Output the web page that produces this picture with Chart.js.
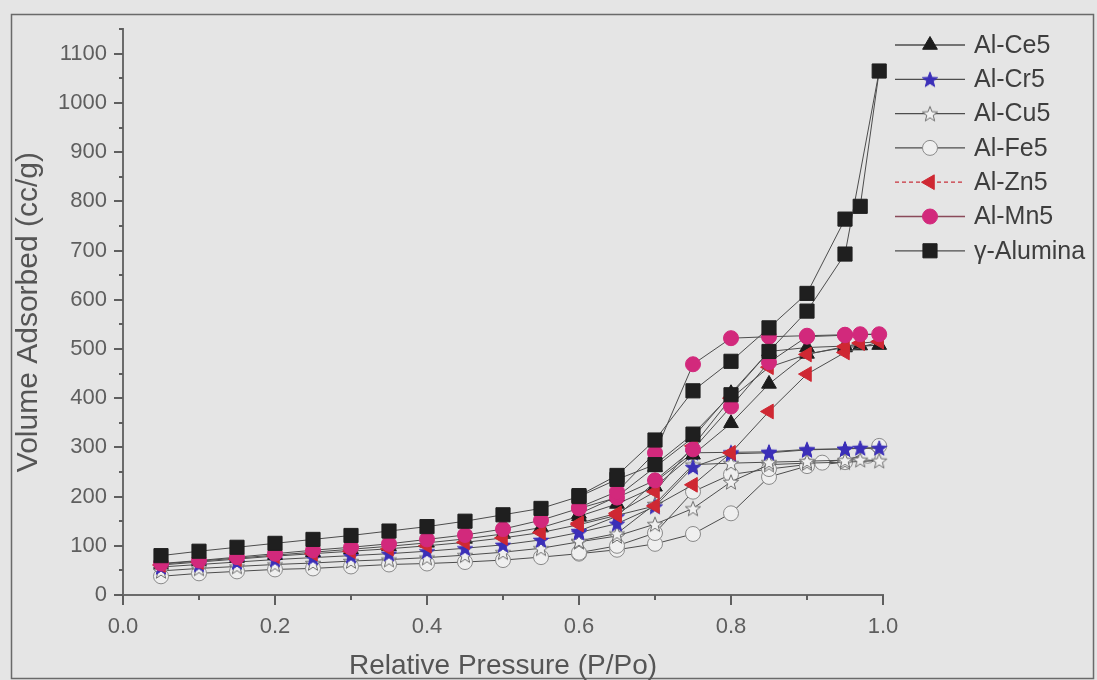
<!DOCTYPE html>
<html>
<head>
<meta charset="utf-8">
<script src="https://cdn.jsdelivr.net/npm/chart.js@4.4.1/dist/chart.umd.min.js"></script>
<style>
  html, body { margin: 0; padding: 0; background: #e5e5e5; }
  canvas { display: block; }
</style>
</head>
<body>
<canvas id="isoChart" width="1097" height="680"></canvas>
<script>
// relative pressures (adsorption branch, then desorption branch)
const pAds = [0.05, 0.10, 0.15, 0.20, 0.25, 0.30, 0.35, 0.40, 0.45, 0.50,
              0.55, 0.60, 0.65, 0.70, 0.75, 0.80, 0.85, 0.90, 0.95, 0.995];
const pDes = [0.97, 0.95, 0.90, 0.85, 0.80, 0.75, 0.70, 0.65, 0.60];
const pDesFe = [0.98, 0.92, 0.85, 0.80, 0.75, 0.70, 0.65, 0.60];

// volume adsorbed (cc/g)
const ce5Ads = [63, 69, 75, 81, 87, 93, 99, 106, 114, 124, 137, 160, 185, 220, 285, 349, 429, 490, 503, 508];
const ce5Des = [507, 506, 503, 495, 410, 320, 260, 200, 165];
const cr5Ads = [57, 62, 67, 72, 76, 80, 84, 89, 95, 102, 112, 127, 145, 180, 260, 287, 289, 295, 297, 299];
const cr5Des = [299, 297, 296, 291, 290, 289, 230, 160, 130];
const cu5Ads = [49, 54, 58, 62, 65, 69, 72, 76, 81, 87, 95, 108, 120, 144, 176, 230, 265, 268, 270, 273];
const cu5Des = [275, 274, 272, 270, 268, 265, 185, 125, 110];
const fe5Ads = [38, 44, 48, 52, 54, 58, 62, 64, 67, 71, 77, 84, 92, 104, 124, 166, 240, 262, 270, 303];
const fe5Des = [283, 269, 256, 245, 210, 126, 100, 86];
const zn5Ads = [61, 67, 73, 79, 84, 89, 94, 100, 107, 116, 127, 143, 162, 181, 224, 289, 373, 449, 493, 515];
const zn5Des = [512, 505, 489, 463, 400, 303, 210, 166, 146];
const mn5Ads = [64, 70, 77, 84, 91, 97, 104, 113, 122, 134, 152, 176, 198, 233, 296, 383, 473, 525, 528, 530];
const mn5Des = [530, 529, 527, 525, 522, 469, 289, 210, 178];
const aluAds = [80, 89, 97, 105, 113, 121, 130, 139, 150, 163, 176, 200, 235, 265, 327, 407, 495, 577, 693, 1065];
const aluDes = [790, 764, 613, 543, 475, 415, 315, 243, 202];

const seriesNames = ['Al-Ce5', 'Al-Cr5', 'Al-Cu5', 'Al-Fe5', 'Al-Zn5', 'Al-Mn5', '\u03b3-Alumina'];

// 5-point star drawn on a small canvas, used as a point style
function makeStar(size, fill, stroke) {
    const c = document.createElement('canvas');
    c.width = size; c.height = size;
    const g = c.getContext('2d');
    const cx = size / 2, cy = size / 2 + 0.8;
    const ro = size / 2 - 1, ri = ro * 0.42;
    g.beginPath();
    for (let i = 0; i < 10; i++) {
        const r = i % 2 === 0 ? ro : ri;
        const a = -Math.PI / 2 + i * Math.PI / 5;
        const px = cx + r * Math.cos(a), py = cy + r * Math.sin(a);
        if (i === 0) g.moveTo(px, py); else g.lineTo(px, py);
    }
    g.closePath();
    g.fillStyle = fill;
    g.fill();
    g.lineWidth = 1;
    g.strokeStyle = stroke;
    g.stroke();
    return c;
}

function toPoints(ads, desP, des) {
    const pts = pAds.map((p, i) => ({ x: p, y: ads[i] }));
    return pts.concat(desP.map((p, i) => ({ x: p, y: des[i] })));
}

const lineGray = '#4d4d4d';

const datasets = [
    { label: seriesNames[0], data: toPoints(ce5Ads, pDes, ce5Des), order: 3,
      pointStyle: 'triangle', pointRadius: 8.5, pointBackgroundColor: '#1c1c1c', pointBorderColor: '#1c1c1c',
      legendLine: lineGray, legendDash: [] },
    { label: seriesNames[1], data: toPoints(cr5Ads, pDes, cr5Des), order: 4,
      pointStyle: makeStar(18, '#3b2fb8', '#3b2fb8'), pointRadius: 8,
      pointBackgroundColor: '#3b2fb8', pointBorderColor: '#3b2fb8',
      legendLine: lineGray, legendDash: [] },
    { label: seriesNames[2], data: toPoints(cu5Ads, pDes, cu5Des), order: 5,
      pointStyle: makeStar(18, '#f0f0f0', '#6e6e6e'), pointRadius: 8,
      pointBackgroundColor: '#f0f0f0', pointBorderColor: '#6e6e6e',
      legendLine: lineGray, legendDash: [] },
    { label: seriesNames[3], data: toPoints(fe5Ads, pDesFe, fe5Des), order: 6,
      pointStyle: 'circle', pointRadius: 7.5, pointBorderWidth: 1,
      pointBackgroundColor: '#efefef', pointBorderColor: '#8a8a8a',
      legendLine: lineGray, legendDash: [] },
    { label: seriesNames[4], data: toPoints(zn5Ads, pDes, zn5Des), order: 2,
      pointStyle: 'triangle', pointRotation: -90, pointRadius: 8.5,
      pointBackgroundColor: '#cf2833', pointBorderColor: '#cf2833',
      legendLine: '#c8323c', legendDash: [4, 3] },
    { label: seriesNames[5], data: toPoints(mn5Ads, pDes, mn5Des), order: 1,
      pointStyle: 'circle', pointRadius: 7.5,
      pointBackgroundColor: '#d2297c', pointBorderColor: '#d2297c',
      legendLine: '#8a4a5a', legendDash: [] },
    { label: seriesNames[6], data: toPoints(aluAds, pDes, aluDes), order: 0,
      pointStyle: 'rect', pointRadius: 10,
      pointBackgroundColor: '#1f1f1f', pointBorderColor: '#1f1f1f',
      legendLine: lineGray, legendDash: [] }
];
datasets.forEach(d => {
    d.showLine = true;
    d.borderColor = lineGray;
    d.borderWidth = 1;
    d.clip = false;
    if (d.pointBorderWidth === undefined) d.pointBorderWidth = 1;
});

// background and outer frame
const framePlugin = {
    id: 'frame',
    beforeDraw(chart) {
        const ctx = chart.ctx;
        ctx.save();
        ctx.fillStyle = '#e5e5e5';
        ctx.fillRect(0, 0, chart.width, chart.height);
        ctx.strokeStyle = '#6a6a6a';
        ctx.lineWidth = 1.5;
        ctx.strokeRect(11.5, 14.5, 1082, 664);
        ctx.restore();
    }
};

// outward major / minor tick marks
const tickPlugin = {
    id: 'ticks',
    afterDraw(chart) {
        const ctx = chart.ctx;
        const area = chart.chartArea;
        const ys = chart.scales.y, xs = chart.scales.x;
        ctx.save();
        ctx.strokeStyle = '#5e5e5e';
        ctx.lineWidth = 2;
        ys.ticks.forEach(t => {
            const py = Math.round(ys.getPixelForValue(t.value));
            const len = Math.round(t.value) % 100 === 0 ? 9 : 4;
            ctx.beginPath();
            ctx.moveTo(area.left - len, py);
            ctx.lineTo(area.left, py);
            ctx.stroke();
        });
        xs.ticks.forEach(t => {
            const px = Math.round(xs.getPixelForValue(t.value));
            const len = Math.round(t.value * 10) % 2 === 0 ? 10 : 5;
            ctx.beginPath();
            ctx.moveTo(px, area.bottom);
            ctx.lineTo(px, area.bottom + len);
            ctx.stroke();
        });
        ctx.restore();
    }
};

// legend: line sample + marker + name
const legendPlugin = {
    id: 'sideLegend',
    afterDraw(chart) {
        const ctx = chart.ctx;
        ctx.save();
        chart.data.datasets.forEach((d, i) => {
            const y = 45 + i * 34.3;
            ctx.strokeStyle = d.legendLine;
            ctx.lineWidth = 1.3;
            ctx.setLineDash(d.legendDash);
            ctx.beginPath();
            ctx.moveTo(895, y);
            ctx.lineTo(965, y);
            ctx.stroke();
            ctx.setLineDash([]);
            ctx.fillStyle = d.pointBackgroundColor;
            ctx.strokeStyle = d.pointBorderColor;
            ctx.lineWidth = d.pointBorderWidth;
            Chart.helpers.drawPoint(ctx, {
                pointStyle: d.pointStyle,
                radius: d.pointRadius,
                rotation: d.pointRotation || 0,
                borderWidth: d.pointBorderWidth
            }, 930, y);
            ctx.fillStyle = '#3e3e3e';
            ctx.font = '25px "Liberation Sans", Arial, sans-serif';
            ctx.textBaseline = 'middle';
            ctx.textAlign = 'left';
            ctx.fillText(d.label, 974, y + 1);
        });
        ctx.restore();
    }
};

const ctx = document.getElementById('isoChart').getContext('2d');
new Chart(ctx, {
    type: 'scatter',
    data: { datasets: datasets },
    plugins: [framePlugin, tickPlugin, legendPlugin],
    options: {
        responsive: false,
        animation: false,
        devicePixelRatio: 1,
        layout: { padding: { left: 0, right: 214, top: 20, bottom: 0 } },
        plugins: { legend: { display: false }, tooltip: { enabled: false } },
        scales: {
            x: {
                type: 'linear',
                min: 0, max: 1,
                afterFit: s => { s.height = 85; },
                border: { display: true, color: '#6b6b6b', width: 2 },
                grid: { display: false, drawTicks: false },
                ticks: {
                    stepSize: 0.1, autoSkip: false, maxRotation: 0, padding: 19,
                    color: '#5e5e5e',
                    font: { family: '"Liberation Sans", Arial, sans-serif', size: 22 },
                    callback: v => Math.round(v * 10) % 2 === 0 ? v.toFixed(1) : ''
                },
                title: {
                    display: true, text: 'Relative Pressure (P/Po)', color: '#555555',
                    font: { family: '"Liberation Sans", Arial, sans-serif', size: 28, lineHeight: 1.0 },
                    padding: { top: 0, bottom: 0 }
                }
            },
            y: {
                type: 'linear',
                min: 0, max: 1150,
                afterFit: s => { s.width = 123; },
                border: { display: true, color: '#6b6b6b', width: 2 },
                grid: { display: false, drawTicks: false },
                ticks: {
                    stepSize: 50, autoSkip: false, padding: 16,
                    color: '#5e5e5e',
                    font: { family: '"Liberation Sans", Arial, sans-serif', size: 22 },
                    callback: v => Math.round(v) % 100 === 0 ? String(v) : ''
                },
                title: {
                    display: true, text: 'Volume Adsorbed (cc/g)', color: '#555555',
                    font: { family: '"Liberation Sans", Arial, sans-serif', size: 30 },
                    padding: { top: 11, bottom: 0 }
                }
            }
        }
    }
});
</script>
</body>
</html>
